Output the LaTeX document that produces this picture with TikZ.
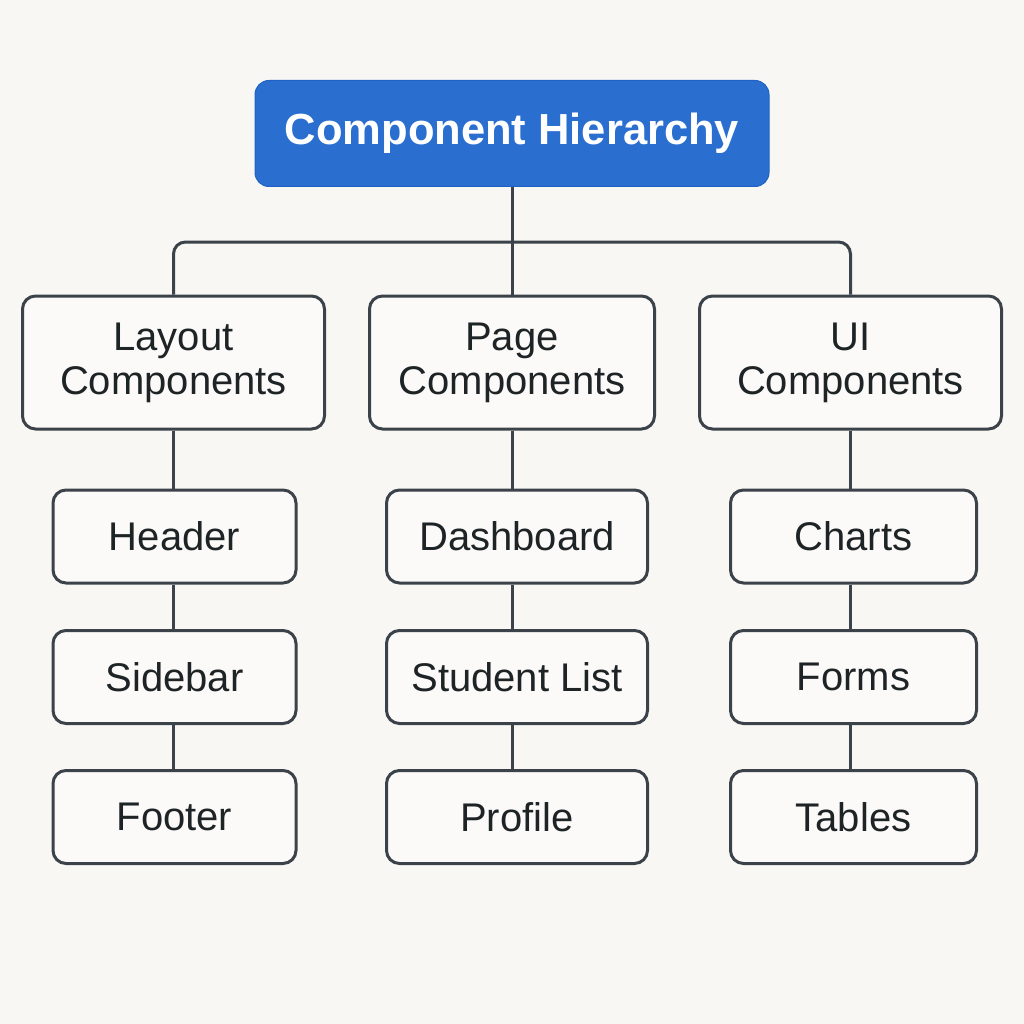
\documentclass[tikz,border=0pt]{standalone}
\usepackage{fontspec}
\setmainfont{Liberation Sans}
\definecolor{bg}{HTML}{F8F7F4}
\definecolor{blueT}{HTML}{2A6FCF}
\definecolor{blueB}{HTML}{1F62C4}
\definecolor{linec}{HTML}{3B4249}
\definecolor{textc}{HTML}{1E2326}
\definecolor{boxfill}{HTML}{FBFAF8}
\begin{document}
\begin{tikzpicture}[x=1pt,y=-1pt,
  box/.style={draw=linec, line width=3pt, rounded corners=13pt, fill=boxfill, font=\fontsize{40}{44}\selectfont, align=center, inner sep=0pt, text=textc},
  title/.style={fill=blueT, draw=blueB, line width=1pt, rounded corners=14pt, text=white, font=\fontsize{43.5}{46}\selectfont\bfseries, inner sep=0pt},
  conn/.style={draw=linec, line width=3pt}]
\fill[bg] (0,0) rectangle (1024,1024);
\useasboundingbox (0,0) rectangle (1024,1024);

\node[title, minimum width=514pt, minimum height=106pt] (root) at (512,133.5) {Component Hierarchy};

\node[box, minimum width=302pt, minimum height=133pt] (layout) at (173.5,362.5) {Layout\\Components};
\node[box, minimum width=285pt, minimum height=133pt] (page) at (512,362.5) {Page\\Components};
\node[box, minimum width=302pt, minimum height=133pt] (ui) at (850.5,362.5) {UI\\Components};

\node[box, minimum width=243pt, minimum height=93pt] (header) at (174.5,536.5) {Header};
\node[box, minimum width=243pt, minimum height=93pt] (sidebar) at (174.5,677) {Sidebar};
\node[box, minimum width=243pt, minimum height=93pt] (footer) at (174.5,817) {Footer};

\node[box, minimum width=261pt, minimum height=93pt] (dash) at (517,536.5) {Dashboard};
\node[box, minimum width=261pt, minimum height=93pt] (slist) at (517,677) {Student List};
\node[box, minimum width=261pt, minimum height=93pt] (profile) at (517,817) {Profile};

\node[box, minimum width=246pt, minimum height=93pt] (charts) at (853.5,536.5) {Charts};
\node[box, minimum width=246pt, minimum height=93pt] (forms) at (853.5,677) {Forms};
\node[box, minimum width=246pt, minimum height=93pt] (tables) at (853.5,817) {Tables};

\coordinate (j) at (512,242);
\draw[conn, rounded corners=12pt] (layout.north) -- (layout.north |- j) -- (ui.north |- j) -- (ui.north);
\draw[conn] (root.south) -- (page.north);

\draw[conn] (layout.south) -- (layout.south |- header.north);
\draw[conn] (layout.south |- header.south) -- (layout.south |- sidebar.north);
\draw[conn] (layout.south |- sidebar.south) -- (layout.south |- footer.north);

\draw[conn] (page.south) -- (page.south |- dash.north);
\draw[conn] (page.south |- dash.south) -- (page.south |- slist.north);
\draw[conn] (page.south |- slist.south) -- (page.south |- profile.north);

\draw[conn] (ui.south) -- (ui.south |- charts.north);
\draw[conn] (ui.south |- charts.south) -- (ui.south |- forms.north);
\draw[conn] (ui.south |- forms.south) -- (ui.south |- tables.north);
\end{tikzpicture}
\end{document}
